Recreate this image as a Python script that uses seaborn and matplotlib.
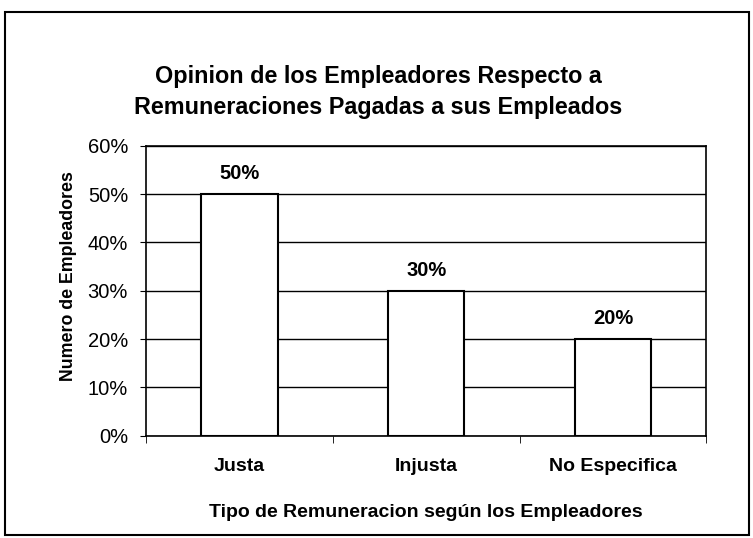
import matplotlib
matplotlib.use('Agg')
import matplotlib.pyplot as plt
import seaborn as sns
import pandas as pd
from matplotlib.ticker import PercentFormatter, FixedLocator, NullFormatter
from matplotlib.patches import Rectangle

# datos
categorias = ['Justa', 'Injusta', 'No Especifica']
porcentajes = [0.50, 0.30, 0.20]
y_ticks = [0, 0.1, 0.2, 0.3, 0.4, 0.5, 0.6]

df = pd.DataFrame({'tipo': categorias, 'valor': porcentajes})

sns.set_style('white')
plt.rcParams['font.family'] = ['Liberation Sans', 'DejaVu Sans']
plt.rcParams['text.color'] = 'black'
plt.rcParams['axes.labelcolor'] = 'black'
plt.rcParams['xtick.color'] = 'black'
plt.rcParams['ytick.color'] = 'black'

fig = plt.figure(figsize=(7.53, 5.38), dpi=100)
ax = fig.add_axes([0.194, 0.19, 0.744, 0.539])

sns.barplot(data=df, x='tipo', y='valor', color='white', edgecolor='black',
            linewidth=1.5, width=0.41, ax=ax, zorder=3)

ax.set_ylim(0, 0.6)
ax.set_yticks(y_ticks)
ax.yaxis.set_major_formatter(PercentFormatter(1.0, decimals=0))
ax.set_xlim(-0.5, 2.5)
ax.grid(axis='y', color='black', linewidth=1, zorder=0)
ax.set_axisbelow(True)
for s in ax.spines.values():
    s.set_color('black')
    s.set_linewidth(1.2)

ax.tick_params(axis='y', which='major', left=True, length=4, labelsize=14.5, pad=9)
ax.tick_params(axis='x', which='major', length=0, labelsize=14, pad=16)
ax.xaxis.set_minor_locator(FixedLocator([-0.5, 0.5, 1.5, 2.5]))
ax.xaxis.set_minor_formatter(NullFormatter())
ax.tick_params(axis='x', which='minor', bottom=True, length=5)
for lab in ax.get_xticklabels():
    lab.set_fontweight('bold')

ax.set_xlabel('Tipo de Remuneracion según los Empleadores', fontsize=14, fontweight='bold', labelpad=21)
ax.set_ylabel('Numero de Empleadores', fontsize=12.8, fontweight='bold', labelpad=8)
ax.yaxis.label.set_y(0.55)

for cont in ax.containers:
    ax.bar_label(cont, labels=[f'{v*100:.0f}%' for v in porcentajes],
                 padding=8, fontsize=14.5, fontweight='bold')

fig.text(0.502, 0.829, 'Opinion de los Empleadores Respecto a\nRemuneraciones Pagadas a sus Empleados',
         ha='center', va='center', fontsize=16.8, fontweight='bold', linespacing=1.45)

# marco exterior
fig.patches.append(Rectangle((0.007, 0.005), 0.988, 0.972, transform=fig.transFigure,
                             fill=False, edgecolor='black', linewidth=1.5))

fig.savefig('out.png', dpi=100)
